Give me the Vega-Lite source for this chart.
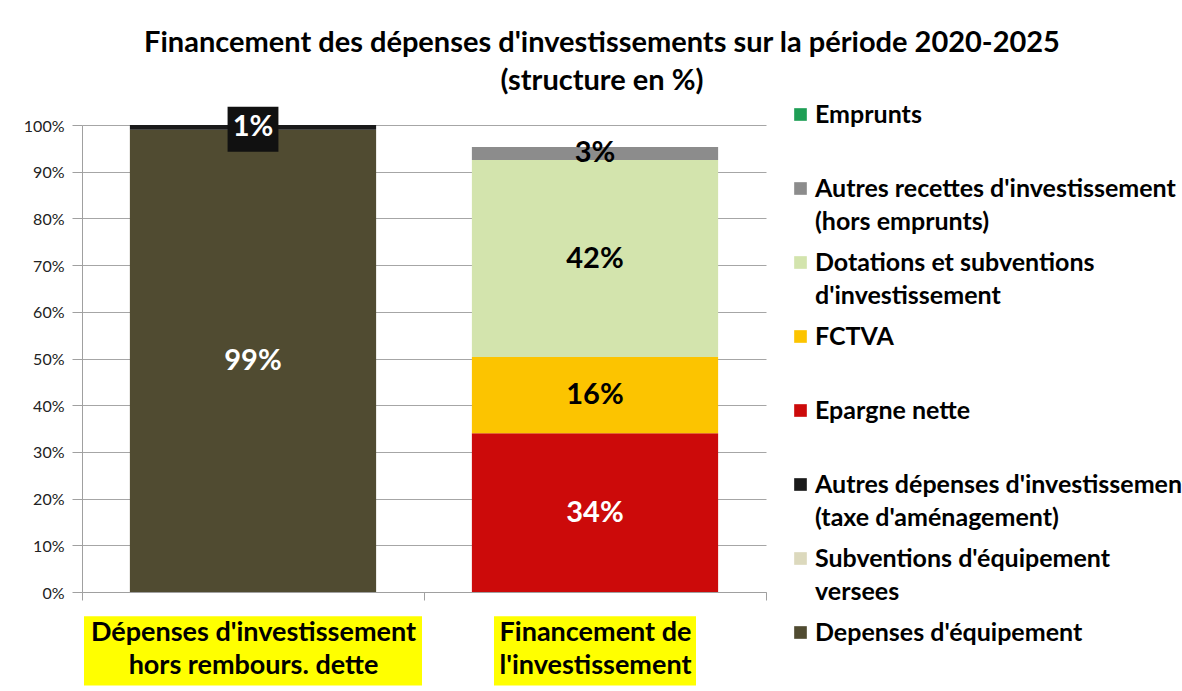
{
  "$schema": "https://vega.github.io/schema/vega-lite/v6.json",
  "width": 684,
  "height": 467,
  "autosize": {"type": "none"},
  "padding": {"left": 82, "top": 125, "right": 416, "bottom": 99},
  "background": "white",
  "config": {"font": "Lato", "view": {"stroke": null}, "style": {"guide-label": {"lineHeight": 33, "dy": 8}}},
  "title": {
    "text": ["Financement des dépenses d'investissements sur la période 2020-2025", "(structure en %)"],
    "fontSize": 29,
    "fontWeight": "bold",
    "color": "black",
    "anchor": "middle",
    "frame": "group",
    "dx": 178,
    "lineHeight": 38,
    "offset": 6
  },
  "data": {
    "values": [
      {"cat": "Dépenses d'investissement|hors rembours. dette", "series": "Depenses d'équipement", "rank": 1, "val": 0.99},
      {"cat": "Dépenses d'investissement|hors rembours. dette", "series": "Subventions d'équipement|versees", "rank": 2, "val": 0},
      {"cat": "Dépenses d'investissement|hors rembours. dette", "series": "Autres dépenses d'investissement|(taxe d'aménagement)", "rank": 3, "val": 0.01},
      {"cat": "Financement de|l'investissement", "series": "Epargne nette", "rank": 4, "val": 0.34},
      {"cat": "Financement de|l'investissement", "series": "FCTVA", "rank": 5, "val": 0.163},
      {"cat": "Financement de|l'investissement", "series": "Dotations et subventions|d'investissement", "rank": 6, "val": 0.422},
      {"cat": "Financement de|l'investissement", "series": "Autres recettes d'investissement|(hors emprunts)", "rank": 7, "val": 0.028},
      {"cat": "Financement de|l'investissement", "series": "Emprunts", "rank": 8, "val": 0}
    ]
  },
  "encoding": {
    "x": {
      "field": "cat",
      "type": "nominal",
      "sort": ["Dépenses d'investissement|hors rembours. dette", "Financement de|l'investissement"],
      "scale": {"paddingInner": 0, "paddingOuter": 0},
      "axis": {
        "title": null,
        "labelExpr": "split(datum.label, '|')",
        "labelFontSize": 27,
        "labelFontWeight": "bold",
        "labelColor": "black",
        "labelAngle": 0,
        "labelLineHeight": 33,
        "labelPadding": 11,
        "labelLimit": 0,
        "domainColor": "#a0a0a0",
        "tickColor": "#a0a0a0",
        "tickSize": 8,
        "tickBand": "extent",
        "zindex": 1
      }
    }
  },
  "layer": [
    {
      "mark": {"type": "bar", "width": {"band": 0.72}},
      "encoding": {
        "y": {
          "field": "val",
          "type": "quantitative",
          "stack": "zero",
          "scale": {"domain": [0, 1], "nice": false},
          "axis": {"title": null, "format": ".0%", "values": [0, 0.1, 0.2, 0.3, 0.4, 0.5, 0.6, 0.7, 0.8, 0.9, 1], "labelFontSize": 16, "labelColor": "#222222", "labelPadding": 8, "labelOffset": -7, "grid": true, "gridColor": "#a6a6a6", "domainColor": "#a0a0a0", "tickColor": "#a0a0a0", "tickSize": 10}
        },
        "order": {"field": "rank", "type": "quantitative", "sort": "ascending"},
        "color": {
          "field": "series",
          "type": "nominal",
          "scale": {
            "domain": ["Emprunts", "Autres recettes d'investissement|(hors emprunts)", "Dotations et subventions|d'investissement", "FCTVA", "Epargne nette", "Autres dépenses d'investissement|(taxe d'aménagement)", "Subventions d'équipement|versees", "Depenses d'équipement"],
            "range": ["#1e9e55", "#8c8c8c", "#d3e4ad", "#fcc400", "#cc0a0a", "#1a1a1a", "#dcd9bd", "#504b31"]
          },
          "legend": {
            "orient": "none",
            "legendX": 706,
            "legendY": -23,
            "title": null,
            "labelExpr": "indexof(datum.label, '|') < 0 ? [datum.label, ' '] : split(datum.label, '|')",
            "labelFontSize": 25,
            "labelFontWeight": "bold",
            "labelColor": "black",
            "labelBaseline": "alphabetic",
            "labelLimit": 0,
            "labelOffset": 2,
            "symbolType": "square",
            "symbolSize": 160,
            "symbolStrokeWidth": 0,
            "rowPadding": 15
          }
        }
      }
    },
    {
      "data": {"values": [
        {"cat": "Dépenses d'investissement|hors rembours. dette"},
        {"cat": "Financement de|l'investissement"}
      ]},
      "mark": {"type": "bar", "color": "#ffff00", "clip": false},
      "encoding": {
        "y": {
          "datum": -0.052,
          "type": "quantitative",
          "scale": {"domain": [0, 1], "nice": false},
          "axis": {"title": null, "format": ".0%", "values": [0, 0.1, 0.2, 0.3, 0.4, 0.5, 0.6, 0.7, 0.8, 0.9, 1], "labelFontSize": 16, "labelColor": "#222222", "labelPadding": 8, "labelOffset": -7, "grid": true, "gridColor": "#a6a6a6", "domainColor": "#a0a0a0", "tickColor": "#a0a0a0", "tickSize": 10}
        },
        "y2": {"datum": -0.2},
        "size": {"condition": {"test": "datum.cat === \"Dépenses d'investissement|hors rembours. dette\"", "value": 338}, "value": 202}
      }
    },
    {
      "transform": [
        {"filter": "datum.val > 0"},
        {"stack": "val", "groupby": ["cat"], "sort": [{"field": "rank", "order": "ascending"}], "as": ["v0", "v1"]},
        {"calculate": "(datum.v0 + datum.v1) / 2", "as": "mid"},
        {"filter": "datum.rank === 3"}
      ],
      "mark": {"type": "point", "shape": "M-1.13,-1H1.13V1H-1.13Z", "filled": true, "color": "#111111", "opacity": 1, "size": 2025, "strokeWidth": 0},
      "encoding": {
        "y": {
          "field": "mid",
          "type": "quantitative",
          "scale": {"domain": [0, 1], "nice": false},
          "axis": {"title": null, "format": ".0%", "values": [0, 0.1, 0.2, 0.3, 0.4, 0.5, 0.6, 0.7, 0.8, 0.9, 1], "labelFontSize": 16, "labelColor": "#222222", "labelPadding": 8, "labelOffset": -7, "grid": true, "gridColor": "#a6a6a6", "domainColor": "#a0a0a0", "tickColor": "#a0a0a0", "tickSize": 10}
        },
        "yOffset": {"value": 2}
      }
    },
    {
      "transform": [
        {"filter": "datum.val > 0"},
        {"stack": "val", "groupby": ["cat"], "sort": [{"field": "rank", "order": "ascending"}], "as": ["v0", "v1"]},
        {"calculate": "(datum.v0 + datum.v1) / 2", "as": "mid"},
        {"calculate": "format(datum.val, '.0%')", "as": "lbl"}
      ],
      "mark": {"type": "text", "fontSize": 29, "fontWeight": "bold", "baseline": "middle"},
      "encoding": {
        "y": {
          "field": "mid",
          "type": "quantitative",
          "scale": {"domain": [0, 1], "nice": false},
          "axis": {"title": null, "format": ".0%", "values": [0, 0.1, 0.2, 0.3, 0.4, 0.5, 0.6, 0.7, 0.8, 0.9, 1], "labelFontSize": 16, "labelColor": "#222222", "labelPadding": 8, "labelOffset": -7, "grid": true, "gridColor": "#a6a6a6", "domainColor": "#a0a0a0", "tickColor": "#a0a0a0", "tickSize": 10}
        },
        "yOffset": {"condition": {"test": "datum.rank === 3", "value": 3}, "value": 0},
        "text": {"field": "lbl"},
        "color": {"condition": {"test": "datum.rank === 1 || datum.rank === 3 || datum.rank === 4", "value": "white"}, "value": "black"}
      }
    }
  ]
}
